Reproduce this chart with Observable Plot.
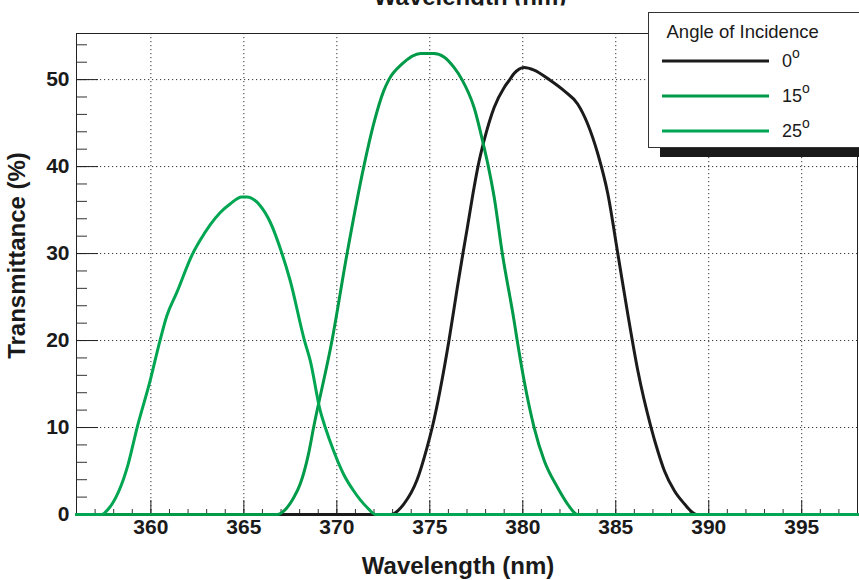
<!DOCTYPE html>
<html>
<head>
<meta charset="utf-8">
<script src="https://cdn.jsdelivr.net/npm/d3@7"></script>
<script src="https://cdn.jsdelivr.net/npm/@observablehq/plot@0.6"></script>
<style>
  body { margin: 0; background: #fff; }
  #chart { width: 859px; height: 580px; overflow: hidden; }
</style>
</head>
<body>
<div id="chart"></div>
<script>
// Filter transmittance curves for three angles of incidence
const wavelength0 = [356, 372.9, 373.6, 374.3, 374.85, 375.13, 376.03, 376.48, 376.78, 377.02, 377.38, 377.59, 377.92, 378.46, 379.0, 379.3, 379.53, 380.07, 380.61, 381.42, 382.23, 382.95, 383.49, 384.03, 384.57, 385.11, 385.65, 386.19, 386.9, 387.26, 387.62, 388.16, 388.7, 389.15, 389.35, 398];
const transmittance0 = [0, 0, 1.2, 3.9, 7.7, 10, 20, 26.1, 30, 33.0, 37.6, 40, 43.0, 46.8, 49.1, 50, 50.7, 51.4, 51.1, 50, 48.7, 47.2, 44.9, 41.5, 36.9, 30, 23, 16.5, 10.0, 7.3, 5.0, 2.7, 1.2, 0.2, 0, 0];

const wavelength15 = [356, 366.8, 367.2, 367.67, 368.03, 368.48, 368.75, 369.74, 370.55, 371.45, 371.98, 372.52, 372.8, 373.51, 374.5, 375.22, 375.76, 376.3, 376.73, 377.38, 377.92, 378.15, 378.46, 378.9, 379.53, 379.7, 380.07, 380.61, 381.15, 381.87, 382.41, 382.95, 398];
const transmittance15 = [0, 0, 0.5, 1.9, 3.5, 7.0, 10, 20, 30, 40, 44.9, 48.7, 50, 51.8, 53, 53, 52.6, 51.4, 50, 46.8, 42.2, 40, 36.5, 30, 22.3, 20, 15.4, 10, 6.2, 3.1, 1.2, 0, 0];

const wavelength25 = [356, 357.35, 357.7, 358.78, 359.26, 359.95, 360.49, 360.85, 361.39, 362.25, 362.64, 363.72, 364.26, 364.89, 365.16, 365.88, 366.42, 367.05, 367.49, 368.26, 368.57, 369.11, 369.38, 369.83, 370.37, 370.91, 371.63, 372.08, 398];
const transmittance25 = [0, 0, 0.6, 5.8, 10, 15.3, 20, 22.8, 25.5, 30, 31.5, 34.7, 35.7, 36.5, 36.5, 35.5, 33.6, 30, 26.9, 20, 17.7, 11.9, 10, 7.3, 4.6, 2.7, 0.8, 0, 0];

const angles = ["0", "15", "25"];
const angleColors = ["#1b1b1b", "#009a48", "#00a651"];

const xTicks = [360, 365, 370, 375, 380, 385, 390, 395];
const xMinorTicks = d3.range(356, 399, 1);
const yTicks = [0, 10, 20, 30, 40, 50];
const yMinorTicks = d3.range(0, 56, 2);

const toRows = (wl, tr, angle) => wl.map((w, i) => ({wavelength: w, transmittance: tr[i], angle}));
const curves = [
  toRows(wavelength0, transmittance0, angles[0]),
  toRows(wavelength15, transmittance15, angles[1]),
  toRows(wavelength25, transmittance25, angles[2])
];

const font = "'Liberation Sans', Arial, Helvetica, sans-serif";

const chart = Plot.plot({
  width: 859,
  height: 580,
  marginLeft: 76,
  marginRight: 2,
  marginTop: 33,
  marginBottom: 66,
  x: {domain: [356, 398]},
  y: {domain: [0, 55.3]},
  style: {fontFamily: font, background: "#fff", color: "#1a1a1a", overflow: "visible"},
  marks: [
    Plot.gridX(xTicks, {stroke: "#333", strokeOpacity: 1, strokeDasharray: "1.2,2.8"}),
    Plot.gridY(yTicks, {stroke: "#333", strokeOpacity: 1, strokeDasharray: "1.2,2.8"}),
    Plot.axisX(xMinorTicks, {tickSize: -5, fill: "none", stroke: "#333", label: null}),
    Plot.axisX(xTicks, {tickSize: -14, tickPadding: 19, fontSize: 21, fontWeight: "bold", stroke: "#222", label: null, tickFormat: d => String(d)}),
    Plot.axisY(yMinorTicks, {tickSize: -11, fill: "none", stroke: "#333", label: null}),
    Plot.axisY(yTicks, {tickSize: -22, tickPadding: 29, fontSize: 21, fontWeight: "bold", stroke: "#222", label: null, tickFormat: d => String(d)}),
    Plot.frame({stroke: "#222"}),
    ...curves.map((rows, i) => Plot.line(rows, {
      x: "wavelength", y: "transmittance",
      stroke: angleColors[i], strokeWidth: 3, strokeLinejoin: "round", curve: "monotone-x"
    }))
  ]
});

const svg = d3.select(chart);

// Axis titles; the upper copy sits mostly above the canvas edge
svg.append("defs").append("clipPath").attr("id", "top-title-clip")
  .append("rect").attr("x", 0).attr("y", 0).attr("width", 859).attr("height", 5.5);
svg.append("text")
  .attr("x", 458).attr("y", 574)
  .attr("text-anchor", "middle")
  .style("font", `bold 24px ${font}`).attr("fill", "#1a1a1a")
  .text("Wavelength (nm)");
svg.append("text")
  .attr("x", 470).attr("y", 5)
  .attr("text-anchor", "middle")
  .attr("clip-path", "url(#top-title-clip)")
  .style("font", `bold 24px ${font}`).attr("fill", "#1a1a1a")
  .text("Wavelength (nm)");
svg.append("text")
  .attr("transform", "translate(25,255.5) rotate(-90)")
  .attr("text-anchor", "middle")
  .style("font", `bold 24px ${font}`).attr("fill", "#1a1a1a")
  .text("Transmittance (%)");

// Legend box with drop shadow
const legend = svg.append("g").attr("text-anchor", "start");
legend.append("rect").attr("x", 660).attr("y", 147.5).attr("width", 210).attr("height", 9.5).attr("fill", "#1a1a1a");
legend.append("rect").attr("x", 648.5).attr("y", 12.5).attr("width", 230).attr("height", 135).attr("fill", "#fff").attr("stroke", "#333").attr("stroke-width", 1);
legend.append("text").attr("x", 666.5).attr("y", 37.7).attr("text-anchor", "start")
  .style("font", `18.5px ${font}`).attr("fill", "#1a1a1a").text("Angle of Incidence");
angles.forEach((a, i) => {
  const cy = 61 + i * 35;
  legend.append("line").attr("x1", 662).attr("x2", 769).attr("y1", cy).attr("y2", cy)
    .attr("stroke", angleColors[i]).attr("stroke-width", 3);
  const t = legend.append("text").attr("x", 782).attr("y", cy + 5.5).attr("text-anchor", "start")
    .style("font", `18px ${font}`).attr("fill", "#1a1a1a");
  t.append("tspan").text(a);
  t.append("tspan").attr("dy", -9).style("font-size", "14px").text("o");
});

document.getElementById("chart").appendChild(chart);
</script>
</body>
</html>
